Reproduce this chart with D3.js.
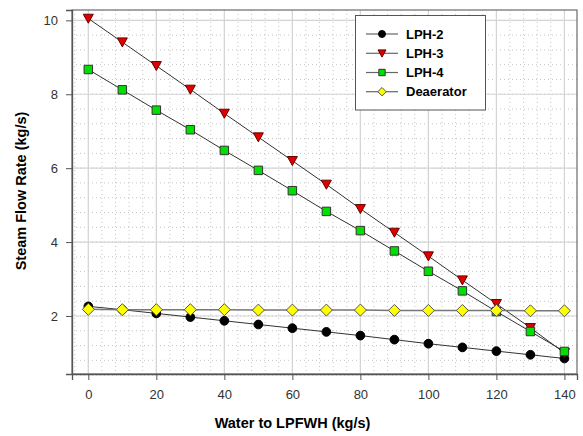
<!DOCTYPE html>
<html><head><meta charset="utf-8">
<script src="https://cdn.jsdelivr.net/npm/d3@7"></script>
<style>body{margin:0;background:#fff}svg{display:block}</style>
</head><body>
<svg id="c" width="583" height="436"></svg>
<script>
const xValues = [0,10,20,30,40,50,60,70,80,90,100,110,120,130,140];
const lph2 = [2.26,2.17,2.07,1.97,1.87,1.77,1.67,1.57,1.47,1.36,1.25,1.15,1.05,0.95,0.85];
const lph3 = [10.05,9.41,8.77,8.13,7.48,6.84,6.2,5.56,4.9,4.26,3.62,2.97,2.33,1.68,1.0];
const lph4 = [8.67,8.12,7.57,7.04,6.48,5.94,5.39,4.83,4.31,3.76,3.21,2.68,2.12,1.58,1.04];
const deaerator = [2.18,2.17,2.17,2.17,2.17,2.16,2.16,2.16,2.16,2.15,2.15,2.15,2.15,2.14,2.14];
const seriesNames = ["LPH-2","LPH-3","LPH-4","Deaerator"];
const xTicks = [0,20,40,60,80,100,120,140];
const yTicks = [2,4,6,8,10];
const xTitle = "Water to LPFWH (kg/s)";
const yTitle = "Steam Flow Rate (kg/s)";

const svg = d3.select("#c");
const L=72,R=577,T=10,B=374;
const x = d3.scaleLinear().domain([-4.8,143.7]).range([L,R]);
const y = d3.scaleLinear().domain([0.43,10.28]).range([B,T]);

const styles = [
 {fill:"#000",stroke:"#000",shape:d3.symbolCircle,size:60,line:"#333"},
 {fill:"#e00000",stroke:"#600",shape:"tri",size:10,line:"#333"},
 {fill:"#00e000",stroke:"#333",shape:d3.symbolSquare,size:72,line:"#333"},
 {fill:"#ffff00",stroke:"#555",shape:"dia",size:6,line:"#777"}
];
const data = [lph2,lph3,lph4,deaerator];

// minor grid
const g = svg.append("g");
const xMinor = d3.range(-4,144,4);
const yMinor = d3.range(0.4,10.3,0.4);
g.selectAll(".xm").data(xMinor).join("line")
 .attr("x1",d=>x(d)).attr("x2",d=>x(d)).attr("y1",T).attr("y2",B)
 .attr("stroke","#c4c4c4").attr("stroke-width",1).attr("stroke-dasharray","1,3");
g.selectAll(".ym").data(yMinor).join("line")
 .attr("y1",d=>y(d)).attr("y2",d=>y(d)).attr("x1",L).attr("x2",R)
 .attr("stroke","#c4c4c4").attr("stroke-width",1).attr("stroke-dasharray","1,3");
// major grid
g.selectAll(".xM").data(xTicks).join("line")
 .attr("x1",d=>x(d)).attr("x2",d=>x(d)).attr("y1",T).attr("y2",B)
 .attr("stroke","#d4d4d4").attr("stroke-width",1.2);
g.selectAll(".yM").data(yTicks).join("line")
 .attr("y1",d=>y(d)).attr("y2",d=>y(d)).attr("x1",L).attr("x2",R)
 .attr("stroke","#d4d4d4").attr("stroke-width",1.2);

// frame
svg.append("rect").attr("x",L).attr("y",T).attr("width",R-L).attr("height",B-T)
 .attr("fill","none").attr("stroke","#777").attr("stroke-width",1.3);

// axes
const xAxis = d3.axisBottom(x).tickValues(xTicks).tickSize(6).tickPadding(10);
const yAxis = d3.axisLeft(y).tickValues(yTicks).tickSize(6).tickPadding(8);
const ax = svg.append("g").attr("transform",`translate(0,${B})`).call(xAxis);
const ay = svg.append("g").attr("transform",`translate(${L},0)`).call(yAxis);
[ax,ay].forEach(a=>{
 a.select(".domain").attr("stroke","#555").attr("stroke-width",1.3);
 a.selectAll(".tick line").attr("stroke","#555");
 a.selectAll("text").attr("font-family","Liberation Sans, Arial, sans-serif").attr("font-size",13).attr("fill","#333");
});

function markerPath(st){
 if(st.shape==="tri"){ const s=st.size/2; return `M${-s},${-s*0.85}L${s},${-s*0.85}L0,${s*0.95}Z`; }
 if(st.shape==="dia"){ const s=st.size; return `M0,${-s}L${s},0L0,${s}L${-s},0Z`; }
 return d3.symbol().type(st.shape).size(st.size)();
}

const line = d3.line().x((d,i)=>x(xValues[i])).y(d=>y(d));
data.forEach((vals,k)=>{
 const st = styles[k];
 svg.append("path").attr("d",line(vals)).attr("fill","none")
  .attr("stroke",st.line).attr("stroke-width",k===3?1.5:1);
});
data.forEach((vals,k)=>{
 const st = styles[k];
 svg.append("g").selectAll("path").data(vals).join("path")
  .attr("transform",(d,i)=>`translate(${x(xValues[i])},${y(d)})`)
  .attr("d",markerPath(st)).attr("fill",st.fill).attr("stroke",st.stroke).attr("stroke-width",1);
});

// legend
const lg = svg.append("g");
lg.append("rect").attr("x",355.5).attr("y",15.5).attr("width",130).attr("height",94.5)
 .attr("fill","#fff").attr("stroke","#555").attr("stroke-width",1);
const ly = [34,53.3,72.5,91.7];
seriesNames.forEach((n,k)=>{
 const st=styles[k];
 lg.append("line").attr("x1",366).attr("x2",398).attr("y1",ly[k]).attr("y2",ly[k])
  .attr("stroke","#666").attr("stroke-width",1.2);
 const sc = k===0?0.8:(k===1?0.8:(k===2?0.75:0.7));
 lg.append("path").attr("transform",`translate(382,${ly[k]}) scale(${sc})`)
  .attr("d",markerPath(st)).attr("fill",st.fill).attr("stroke",st.stroke).attr("stroke-width",1/sc);
 lg.append("text").attr("x",406).attr("y",ly[k]).attr("dy","0.36em")
  .attr("font-family","Liberation Sans, Arial, sans-serif").attr("font-weight","bold").attr("font-size",13)
  .attr("fill","#000").text(n);
});

// titles
svg.append("text").attr("x",(L+R)/2 - 32).attr("y",423).attr("dy","0.36em").attr("text-anchor","middle")
 .attr("font-family","Liberation Sans, Arial, sans-serif").attr("font-weight","bold").attr("font-size",14.5)
 .text(xTitle);
svg.append("text").attr("transform",`translate(21,191) rotate(-90)`).attr("dy","0.36em").attr("text-anchor","middle")
 .attr("font-family","Liberation Sans, Arial, sans-serif").attr("font-weight","bold").attr("font-size",14.5)
 .text(yTitle);
</script>
</body></html>
